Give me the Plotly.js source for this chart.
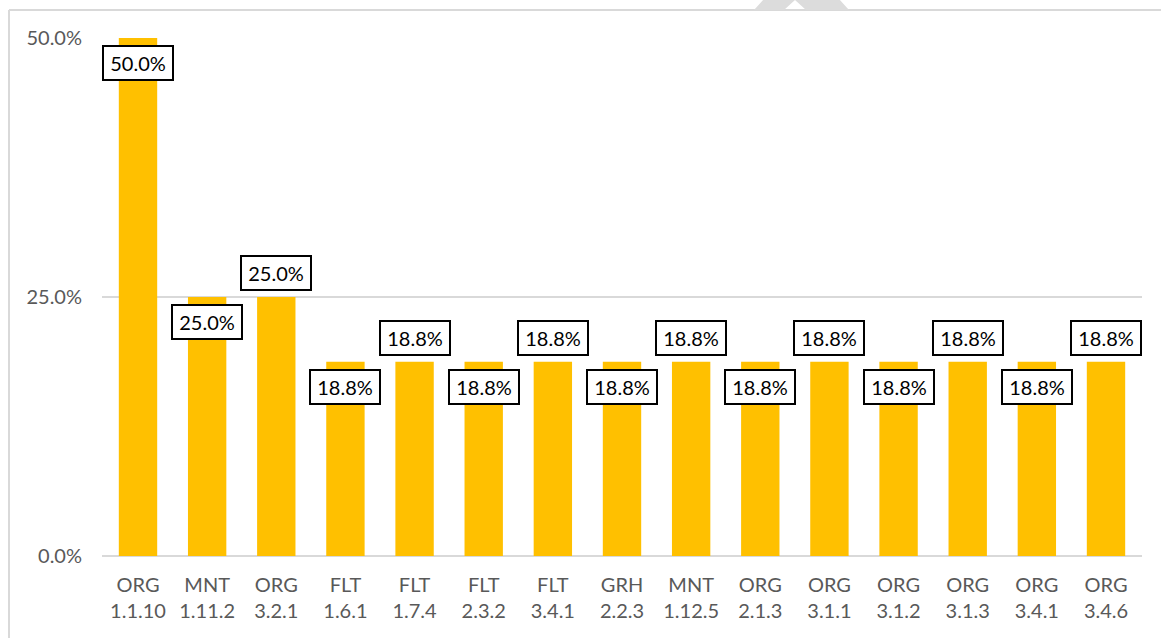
<!DOCTYPE html>
<html>
<head>
<meta charset="utf-8">
<script src="https://cdn.plot.ly/plotly-3.0.1.min.js"></script>
<style>html,body{margin:0;padding:0;background:#fff;}#chart{width:1161px;height:638px;}</style>
</head>
<body>
<div id="chart"></div>
<script>
// ---- data ----
const categoryGroups = ["ORG","MNT","ORG","FLT","FLT","FLT","FLT","GRH","MNT","ORG","ORG","ORG","ORG","ORG","ORG"];
const categoryCodes  = ["1.1.10","1.11.2","3.2.1","1.6.1","1.7.4","2.3.2","3.4.1","2.2.3","1.12.5","2.1.3","3.1.1","3.1.2","3.1.3","3.4.1","3.4.6"];
const shareValues    = [0.5,0.25,0.25,0.1875,0.1875,0.1875,0.1875,0.1875,0.1875,0.1875,0.1875,0.1875,0.1875,0.1875,0.1875];
const yTickValues    = [0, 0.25, 0.5];
const yTickLabels    = ["0.0%", "25.0%", "50.0%"];

// ---- label placement (style) ----
const labelAbove = [false,false,true,false,true,false,true,false,true,false,true,false,true,false,true];

const categories = categoryGroups.map((g, i) => g + "<br>" + categoryCodes[i]);

const FONT = "Lato, 'Open Sans', sans-serif";

const trace = {
  type: "bar",
  x: categories,
  y: shareValues,
  marker: {color: "#FFC000"},
  hoverinfo: "skip"
};

const annotations = shareValues.map((v, i) => ({
  x: categories[i],
  y: v,
  xref: "x", yref: "y",
  text: (v * 100).toFixed(1) + "%",
  showarrow: false,
  yanchor: labelAbove[i] ? "bottom" : "top",
  yshift: labelAbove[i] ? 6 : -7,
  font: {family: FONT, size: 20, color: "#000000"},
  bgcolor: "#ffffff",
  bordercolor: "#000000",
  borderwidth: 2,
  borderpad: 3,
  width: 62,
  height: 26
}));

// paper-coordinate helpers for decorative frame
const L = 102, R = 19, T = 38, B = 82, W = 1161, H = 638;
const pw = W - L - R, ph = H - T - B;
const px = x => (x - L) / pw;
const py = y => (H - B - y) / ph;

const shapes = [
  {type: "line", xref: "paper", yref: "paper", x0: px(9), x1: px(9), y0: py(10), y1: py(640),
   line: {color: "#d9d9d9", width: 2}},
  {type: "line", xref: "paper", yref: "paper", x0: px(9), x1: px(1165), y0: py(10), y1: py(10),
   line: {color: "#d9d9d9", width: 2}},
  {type: "path", xref: "paper", yref: "paper",
   path: "M" + px(754) + "," + py(10) + " L" + px(764) + "," + py(-1) + " L" + px(839) + "," + py(-1) +
         " L" + px(849) + "," + py(10) + " L" + px(806) + "," + py(10) + " L" + px(795) + "," + py(0) +
         " L" + px(784) + "," + py(10) + " Z",
   fillcolor: "#dcdcdc", line: {width: 0}}
];

const layout = {
  width: W, height: H,
  margin: {l: L, r: R, t: T, b: B, pad: 0},
  paper_bgcolor: "#ffffff",
  plot_bgcolor: "#ffffff",
  showlegend: false,
  bargap: 0.445,
  xaxis: {
    type: "category",
    showgrid: false,
    showline: false,
    zeroline: false,
    ticks: "",
    tickfont: {family: FONT, size: 20, color: "#595959"},
    ticklabelstandoff: 15,
    fixedrange: true
  },
  yaxis: {
    range: [0, 0.5],
    tickvals: yTickValues,
    ticktext: yTickLabels,
    showgrid: true,
    gridcolor: "#d9d9d9",
    gridwidth: 1.5,
    zeroline: true,
    zerolinecolor: "#d9d9d9",
    zerolinewidth: 2,
    showline: false,
    ticks: "",
    tickfont: {family: FONT, size: 20, color: "#595959"},
    ticklabelstandoff: 19,
    fixedrange: true
  },
  annotations: annotations,
  shapes: shapes
};

Plotly.newPlot("chart", [trace], layout, {displayModeBar: false, staticPlot: true});
</script>
</body>
</html>
